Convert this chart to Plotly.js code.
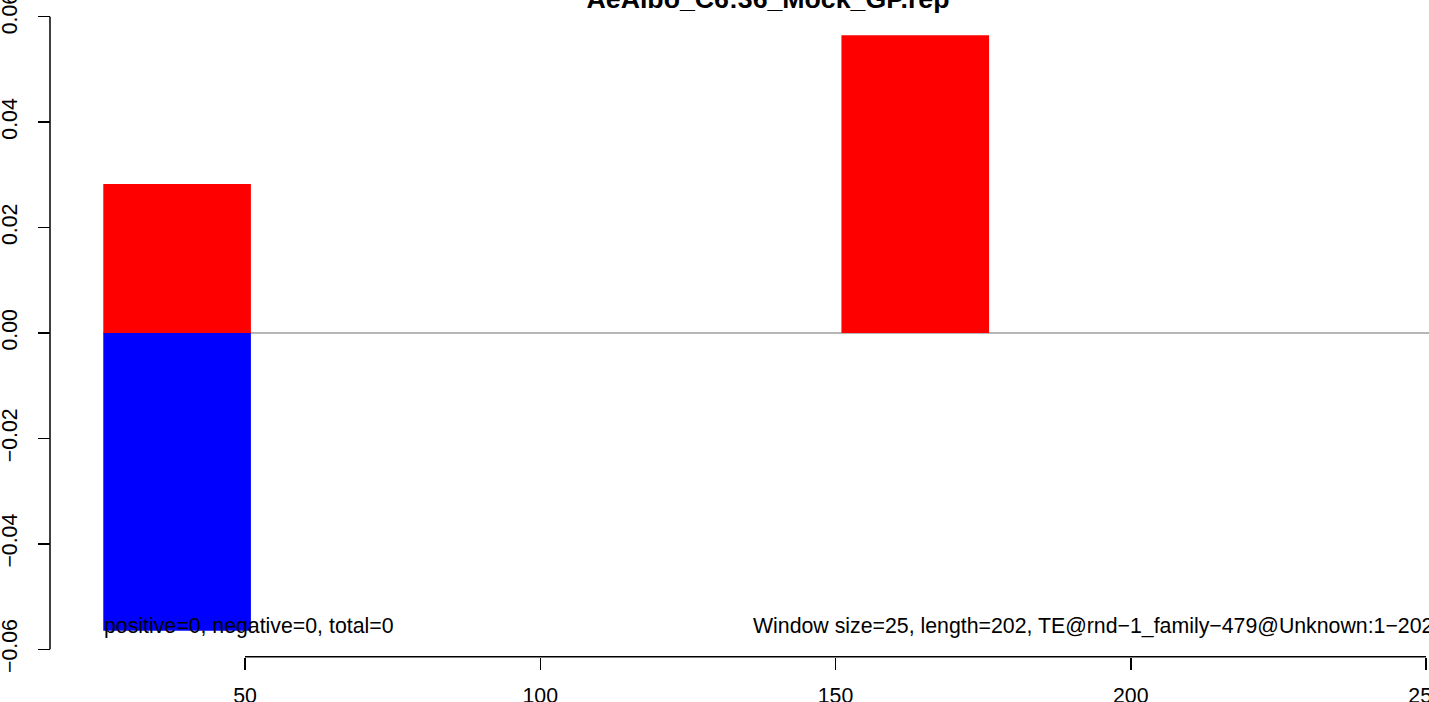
<!DOCTYPE html>
<html>
<head>
<meta charset="utf-8">
<script src="https://cdn.plot.ly/plotly-3.0.1.min.js"></script>
<style>html,body{margin:0;padding:0;background:#fff;}#chart{width:1429px;height:702px;}</style>
</head>
<body>
<div id="chart"></div>
<script>
// ---- data ----
const windowStart = [26, 151];
const windowSize = 25;
const positiveValues = [0.02825, 0.0565];
const negativeValues = [-0.0565, 0];
const xTickVals = [50, 100, 150, 200, 250];
const yTickVals = [-0.06, -0.04, -0.02, 0.00, 0.02, 0.04, 0.06];
const yTickText = ['\u22120.06', '\u22120.04', '\u22120.02', '0.00', '0.02', '0.04', '0.06'];
const baselineRange = [26, 252];
const titleText = 'AeAlbo_C6:36_Mock_GP.rep';
const countsText = 'positive=0, negative=0, total=0';
const infoText = 'Window size=25, length=202, TE@rnd\u22121_family\u2212479@Unknown:1\u2212202';

const FONT = 'Liberation Sans, Arial, Helvetica, sans-serif';

const traces = [
  {
    type: 'bar', x: windowStart, y: positiveValues, width: windowSize, offset: 0,
    marker: {color: '#ff0000', line: {width: 0}}, hoverinfo: 'x+y'
  },
  {
    type: 'bar', x: windowStart, y: negativeValues, width: windowSize, offset: 0,
    marker: {color: '#0000ff', line: {width: 0}}, hoverinfo: 'x+y'
  }
];

const layout = {
  width: 1429, height: 702,
  margin: {l: 0, r: 0, t: 0, b: 0, pad: 0},
  paper_bgcolor: '#ffffff', plot_bgcolor: '#ffffff',
  barmode: 'overlay', showlegend: false,
  font: {family: FONT, size: 21.3, color: '#000'},
  title: {
    text: '<b>' + titleText + '</b>',
    font: {family: FONT, size: 26.7, color: '#000'},
    x: 768 / 1429, xanchor: 'center', xref: 'paper',
    y: 1 - 8 / 702, yanchor: 'bottom', yref: 'container'
  },
  xaxis: {
    range: [8.51, 250.5], showgrid: false, zeroline: false, showline: false,
    tickmode: 'array', tickvals: xTickVals, ticks: 'outside', ticklen: 12, tickwidth: 1.5, tickcolor: '#000',
    anchor: 'free', position: (702 - 656.7) / 702, ticklabeloverflow: 'allow',
    tickfont: {family: FONT, size: 21.3, color: '#000'}, ticklabelstandoff: 8
  },
  yaxis: {
    range: [-0.0700, 0.06317], showgrid: false, zeroline: false, showline: false,
    tickmode: 'array', tickvals: yTickVals, ticktext: yTickText, ticks: 'outside', ticklen: 12, tickwidth: 1.5, tickcolor: '#000',
    tickangle: -90, anchor: 'free', position: 50 / 1429, ticklabeloverflow: 'allow',
    tickfont: {family: FONT, size: 21.3, color: '#000'}, ticklabelstandoff: 12
  },
  shapes: [
    {type: 'line', layer: 'below', xref: 'x', yref: 'y', x0: baselineRange[0], x1: baselineRange[1], y0: 0, y1: 0,
     line: {color: '#9e9e9e', width: 1.5}},
    {type: 'line', xref: 'x', yref: 'paper', x0: xTickVals[0], x1: xTickVals[xTickVals.length - 1],
     y0: (702 - 656.7) / 702, y1: (702 - 656.7) / 702, line: {color: '#000', width: 1.5}},
    {type: 'line', xref: 'paper', yref: 'y', x0: 50 / 1429, x1: 50 / 1429,
     y0: yTickVals[0], y1: yTickVals[yTickVals.length - 1], line: {color: '#000', width: 1.5}}
  ],
  annotations: [
    {text: countsText, xref: 'x', yref: 'y', x: windowStart[0], y: -0.0556, xanchor: 'left', yanchor: 'middle',
     showarrow: false, borderpad: 0, font: {family: FONT, size: 21.3, color: '#000'}},
    {text: infoText, xref: 'paper', yref: 'y', x: 752 / 1429, y: -0.0556, xanchor: 'left', yanchor: 'middle',
     showarrow: false, borderpad: 0, font: {family: FONT, size: 21.3, color: '#000'}}
  ]
};

Plotly.newPlot('chart', traces, layout, {displayModeBar: false, staticPlot: true});
</script>
</body>
</html>
